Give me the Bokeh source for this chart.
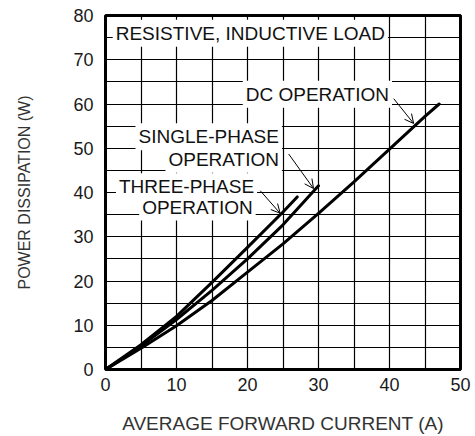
from bokeh.plotting import figure
from bokeh.models import Label, Arrow, OpenHead, SingleIntervalTicker, Range1d
from bokeh.embed import file_html
from bokeh.resources import INLINE

# Data
dc_x = [0, 5, 10, 15, 20, 25, 30, 35, 40, 45, 47]
dc_y = [0, 4.8, 9.9, 15.6, 22.0, 28.4, 35.3, 42.4, 49.8, 57.2, 60.0]
single_x = [0, 5, 10, 15, 20, 25, 30]
single_y = [0, 5.3, 11.3, 17.9, 25.0, 32.7, 41.5]
three_x = [0, 5, 10, 15, 20, 25, 27]
three_y = [0, 5.6, 12.0, 19.7, 27.6, 35.6, 39.0]

x_label = "AVERAGE FORWARD CURRENT (A)"
y_label = "POWER DISSIPATION (W)"

FONT = "Liberation Sans"

p = figure(width=475, height=436, output_backend="svg", toolbar_location=None,
           x_range=Range1d(0, 50), y_range=Range1d(0, 80),
           min_border_left=105, min_border_right=15, min_border_top=15, min_border_bottom=66)

p.background_fill_color = "white"
p.border_fill_color = "white"
p.outline_line_color = "black"
p.outline_line_width = 3

p.xaxis.ticker = SingleIntervalTicker(interval=10, num_minor_ticks=0)
p.yaxis.ticker = SingleIntervalTicker(interval=10, num_minor_ticks=0)
p.xgrid.ticker = SingleIntervalTicker(interval=5)
p.ygrid.ticker = SingleIntervalTicker(interval=5)
for g in (p.xgrid, p.ygrid):
    g.grid_line_color = "black"
    g.grid_line_width = 1.2
    g.grid_line_alpha = 1.0

for ax in (p.xaxis, p.yaxis):
    ax.axis_line_color = None
    ax.major_tick_line_color = None
    ax.minor_tick_line_color = None
    ax.major_label_text_font = FONT
    ax.major_label_text_font_size = "18px"
    ax.major_label_text_color = "#1a1a1a"
    ax.axis_label_text_font = FONT
    ax.axis_label_text_font_style = "normal"
    ax.axis_label_text_color = "#333333"

p.xaxis.axis_label = x_label
p.yaxis.axis_label = y_label
p.xaxis.axis_label_text_font_size = "19px"
p.yaxis.axis_label_text_font_size = "16px"
p.xaxis.major_label_standoff = 2
p.xaxis.axis_label_standoff = 19
p.yaxis.major_label_standoff = 6
p.yaxis.axis_label_standoff = 37

for xs, ys in ((dc_x, dc_y), (single_x, single_y), (three_x, three_y)):
    p.line(xs, ys, line_color="black", line_width=3, line_join="round", line_cap="round")

def add_label(x, y, text, align="right"):
    p.add_layout(Label(x=x, y=y, text=text, text_align=align, text_baseline="middle",
                       text_font=FONT, text_font_size="19px", text_color="#111111",
                       background_fill_color="white", background_fill_alpha=1.0,
                       padding=3))

add_label(20.4, 76.0, "RESISTIVE, INDUCTIVE LOAD", align="center")
add_label(40.35, 62.2, "DC OPERATION")
add_label(24.85, 52.6, "SINGLE-PHASE")
add_label(24.85, 47.5, "OPERATION")
add_label(21.35, 41.3, "THREE-PHASE")
add_label(21.15, 36.7, "OPERATION")

def add_arrow(xs, ys, xe, ye):
    p.add_layout(Arrow(end=OpenHead(size=9, line_width=1, line_color="black"),
                       x_start=xs, y_start=ys, x_end=xe, y_end=ye,
                       line_width=1, line_color="black"))

add_arrow(40.6, 61.2, 43.4, 55.6)
add_arrow(25.8, 48.7, 29.3, 40.9)
add_arrow(21.8, 40.4, 24.6, 35.3)

open("out.html", "w").write(file_html(p, INLINE))
